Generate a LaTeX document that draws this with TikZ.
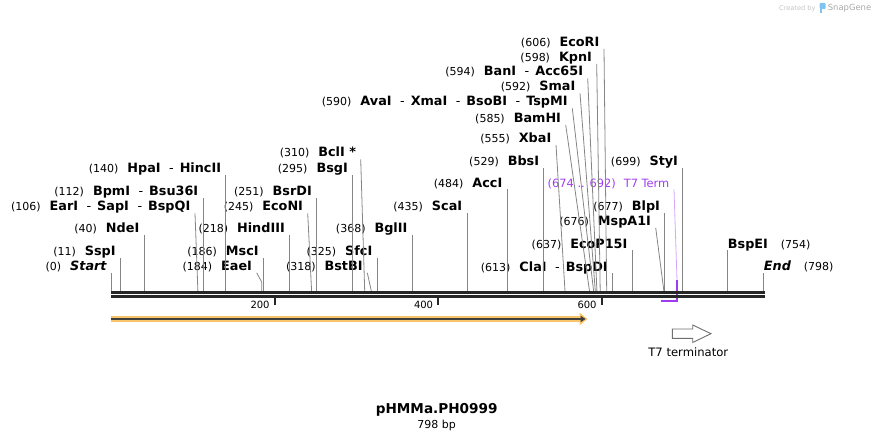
\documentclass[tikz,border=0pt]{standalone}
\usepackage{fontspec}
\setmainfont{DejaVu Sans}
\usepackage{tikz}
\usetikzlibrary{arrows.meta}

\definecolor{cutgray}{HTML}{858585}
\definecolor{bbdark}{HTML}{262626}
\definecolor{termpurple}{HTML}{A03CF0}
\definecolor{orfgold}{HTML}{F8C56A}
\definecolor{orfdark}{HTML}{3F3F3F}
\definecolor{featgray}{HTML}{6E6E6E}
\definecolor{creditgray}{HTML}{C4C4C4}
\definecolor{snapgray}{HTML}{A8A8A8}
\definecolor{snapblue}{HTML}{7CC4F2}

\newcommand{\numsz}{\fontsize{11}{13}\selectfont}
\newcommand{\enzsz}{\fontsize{12.8}{15}\selectfont\bfseries}
\newcommand{\site}[2]{{\numsz(#1)}\hspace{9pt}{\enzsz #2}}
\newcommand{\siteR}[2]{{\enzsz #1}\hspace{13pt}{\numsz(#2)}}
\newcommand{\orsep}{{\mdseries\hspace{8.5pt}-\hspace{6pt}}}

\begin{document}
\begin{tikzpicture}[x=1pt, y=-1pt,
    lab/.style={anchor=base east, inner xsep=4.5pt, inner ysep=0pt},
    labr/.style={anchor=base west, inner xsep=0pt, inner ysep=0pt},
    cut/.style={draw=cutgray, line width=0.8pt},
    strand/.style={draw=bbdark, line width=3pt},
    tick/.style={draw=bbdark, line width=2pt},
    ticklab/.style={anchor=base east, inner xsep=5pt, inner ysep=0pt, font=\fontsize{10}{12}\selectfont},
    orfband/.style={draw=orfgold, line width=6.5pt, -{Triangle[length=8pt,width=12pt]}},
    orfcore/.style={draw=orfdark, line width=1.6pt, shorten >=2pt, -{Triangle[length=5pt,width=6pt]}},
    t7arrow/.style={draw=featgray, line width=0.9pt, fill=white}]
    \useasboundingbox (0,0) rectangle (876,441);

    \coordinate (c0) at (111.3,291);
    \coordinate (c11) at (120.3,291);
    \coordinate (c40) at (144.0,291);
    \coordinate (c106) at (197.9,291);
    \coordinate (c112) at (202.9,291);
    \coordinate (c140) at (225.8,291);
    \coordinate (c184) at (261.7,291);
    \coordinate (c186) at (263.4,291);
    \coordinate (c218) at (289.5,291);
    \coordinate (c245) at (311.6,291);
    \coordinate (c251) at (316.5,291);
    \coordinate (c295) at (352.5,291);
    \coordinate (c310) at (364.7,291);
    \coordinate (c318) at (371.3,291);
    \coordinate (c325) at (377.0,291);
    \coordinate (c368) at (412.1,291);
    \coordinate (c435) at (466.9,291);
    \coordinate (c484) at (507.0,291);
    \coordinate (c529) at (543.8,291);
    \coordinate (c555) at (565.0,291);
    \coordinate (c585) at (589.5,291);
    \coordinate (c590) at (593.6,291);
    \coordinate (c592) at (595.3,291);
    \coordinate (c594) at (596.9,291);
    \coordinate (c598) at (600.2,291);
    \coordinate (c606) at (606.7,291);
    \coordinate (c613) at (612.4,291);
    \coordinate (c637) at (632.1,291);
    \coordinate (c676) at (663.9,291);
    \coordinate (c677) at (664.7,291);
    \coordinate (c699) at (682.7,291);
    \coordinate (c754) at (727.7,291);
    \coordinate (c798) at (763.7,291);

    \node[lab] (start) at (111.3,270.5) {\site{0}{\itshape Start}};
    \node[lab] (sspI) at (120.3,255.5) {\site{11}{SspI}};
    \node[lab] (ndeI) at (144.0,233) {\site{40}{NdeI}};
    \node[lab] (earI) at (195,211) {\site{106}{EarI\orsep SapI\orsep BspQI}};
    \node[lab] (bpmI) at (202.9,196) {\site{112}{BpmI\orsep Bsu36I}};
    \node[lab] (hpaI) at (225.8,173) {\site{140}{HpaI\orsep HincII}};
    \node[lab] (eaeI) at (256.7,270.5) {\site{184}{EaeI}};
    \node[lab] (mscI) at (263.4,255.5) {\site{186}{MscI}};
    \node[lab] (hindIII) at (289.5,233) {\site{218}{HindIII}};
    \node[lab] (ecoNI) at (307.7,211) {\site{245}{EcoNI}};
    \node[lab] (bsrDI) at (316.5,196) {\site{251}{BsrDI}};
    \node[lab] (bsgI) at (352.5,173) {\site{295}{BsgI}};
    \node[lab] (bclI) at (360.7,157) {\site{310}{BclI *}};
    \node[lab] (bstBI) at (367.3,270.5) {\site{318}{BstBI}};
    \node[lab] (sfcI) at (377.0,255.5) {\site{325}{SfcI}};
    \node[lab] (bglII) at (412.1,233) {\site{368}{BglII}};
    \node[lab] (scaI) at (466.9,211) {\site{435}{ScaI}};
    \node[lab] (accI) at (507.0,187) {\site{484}{AccI}};
    \node[lab] (bbsI) at (543.8,166) {\site{529}{BbsI}};
    \node[lab] (xbaI) at (556,142.5) {\site{555}{XbaI}};
    \node[lab] (bamHI) at (565.7,122.5) {\site{585}{BamHI}};
    \node[lab] (avaI) at (572.3,106) {\site{590}{AvaI\orsep XmaI\orsep BsoBI\orsep TspMI}};
    \node[lab] (smaI) at (580,91) {\site{592}{SmaI}};
    \node[lab] (banI) at (587.7,76) {\site{594}{BanI\orsep Acc65I}};
    \node[lab] (kpnI) at (596.7,61.5) {\site{598}{KpnI}};
    \node[lab] (ecoRI) at (604,46.5) {\site{606}{EcoRI}};
    \node[lab] (claI) at (612.4,271) {\site{613}{ClaI\orsep BspDI}};
    \node[lab] (ecoP15I) at (632.1,248) {\site{637}{EcoP15I}};
    \node[lab] (mspA1I) at (655.7,225.5) {\site{676}{MspA1I}};
    \node[lab] (blpI) at (664.7,211) {\site{677}{BlpI}};
    \node[lab] (styI) at (682.7,166) {\site{699}{StyI}};
    \node[labr] (bspEI) at (727.7,248) {\siteR{BspEI}{754}};
    \node[labr] (endpt) at (763.7,270.5) {\siteR{\itshape End}{798}};
    \node[lab, text=termpurple, font=\fontsize{11.4}{13}\selectfont] (t7term) at (674,187) {(674 .. 692)\hspace{8pt}T7 Term};

    \draw[cut] ([yshift=-2.3pt]start.base east) -- (c0);
    \draw[cut] ([yshift=-2.3pt]sspI.base east) -- (c11);
    \draw[cut] ([yshift=-2.3pt]ndeI.base east) -- (c40);
    \draw[cut] ([yshift=-2.3pt]earI.base east) -- (c106);
    \draw[cut] ([yshift=-2.3pt]bpmI.base east) -- (c112);
    \draw[cut] ([yshift=-2.3pt]hpaI.base east) -- (c140);
    \draw[cut] ([yshift=-2.3pt]eaeI.base east) -- ([yshift=9pt]c184) -- (c184);
    \draw[cut] ([yshift=-2.3pt]mscI.base east) -- (c186);
    \draw[cut] ([yshift=-2.3pt]hindIII.base east) -- (c218);
    \draw[cut] ([yshift=-2.3pt]ecoNI.base east) -- (c245);
    \draw[cut] ([yshift=-2.3pt]bsrDI.base east) -- (c251);
    \draw[cut] ([yshift=-2.3pt]bsgI.base east) -- (c295);
    \draw[cut] ([yshift=-2.3pt]bclI.base east) -- (c310);
    \draw[cut] ([yshift=-2.3pt]bstBI.base east) -- (c318);
    \draw[cut] ([yshift=-2.3pt]sfcI.base east) -- (c325);
    \draw[cut] ([yshift=-2.3pt]bglII.base east) -- (c368);
    \draw[cut] ([yshift=-2.3pt]scaI.base east) -- (c435);
    \draw[cut] ([yshift=-2.3pt]accI.base east) -- (c484);
    \draw[cut] ([yshift=-2.3pt]bbsI.base east) -- (c529);
    \draw[cut] ([yshift=-2.3pt]xbaI.base east) -- (c555);
    \draw[cut] ([yshift=-2.3pt]bamHI.base east) -- (c585);
    \draw[cut] ([yshift=-2.3pt]avaI.base east) -- (c590);
    \draw[cut] ([yshift=-2.3pt]smaI.base east) -- (c592);
    \draw[cut] ([yshift=-2.3pt]banI.base east) -- (c594);
    \draw[cut] ([yshift=-2.3pt]kpnI.base east) -- (c598);
    \draw[cut] ([yshift=-2.3pt]ecoRI.base east) -- (c606);
    \draw[cut] ([yshift=-2.3pt]claI.base east) -- (c613);
    \draw[cut] ([yshift=-2.3pt]ecoP15I.base east) -- (c637);
    \draw[cut] ([yshift=-2.3pt]mspA1I.base east) -- (c676);
    \draw[cut] ([yshift=-2.3pt]blpI.base east) -- (c677);
    \draw[cut] ([yshift=-2.3pt]styI.base east) -- (c699);
    \draw[cut] ([yshift=-2.3pt]bspEI.base west) -- (c754);
    \draw[cut] ([yshift=-2.3pt]endpt.base west) -- (c798);

    \coordinate (t7top) at (677,280);
    \coordinate (t7end) at (677,301);
    \coordinate (t7start) at (661,301);
    \draw[draw=termpurple!45, line width=0.8pt] ([yshift=-2.3pt]t7term.base east) -- (t7top);
    \draw[draw=termpurple, line width=1.8pt] (t7top) -- (t7end) -- (t7start);

    \draw[strand] (111,292.5) -- (765,292.5);
    \draw[strand] (111,296.7) -- (765,296.7);

    \draw[tick] (274.8,296.5) -- (274.8,305);
    \draw[tick] (438.3,296.5) -- (438.3,305);
    \draw[tick] (601.8,296.5) -- (601.8,305);
    \node[ticklab] (t200) at (274.8,308.6) {200};
    \node[ticklab] (t400) at (438.3,308.6) {400};
    \node[ticklab] (t600) at (601.8,308.6) {600};

    \coordinate (orfS) at (111.3,319);
    \coordinate (orfE) at (587.6,319);
    \draw[orfband] (orfS) -- (orfE);
    \draw[orfcore] (orfS) -- (orfE);

    \draw[t7arrow] (672.3,329) -- (692.7,329) -- (692.7,325) -- (711,333.7) -- (692.7,342.5) -- (692.7,338.3) -- (672.3,338.3) -- cycle;
    \node[anchor=base, font=\fontsize{11.6}{13}\selectfont] (t7feat) at (688.3,356.7) {T7 terminator};

    \node[anchor=base, font=\fontsize{13.6}{16}\selectfont\bfseries] (title) at (436.7,413.3) {pHMMa.PH0999};
    \node[anchor=base, font=\fontsize{11}{13}\selectfont] (len) at (436.7,428.3) {798 bp};

    \node[anchor=base west, inner sep=0pt, text=creditgray, font=\fontsize{6.6}{8}\selectfont] (cred) at (779,10.5) {Created by};
    \fill[snapblue, rounded corners=1pt] (819.5,3) rectangle (825.5,9);
    \fill[snapblue] (819.5,8) rectangle (822,13);
    \node[anchor=base west, inner sep=0pt, text=snapgray, font=\fontsize{8.4}{10}\selectfont] (snap) at (827.7,10.5) {SnapGene};
\end{tikzpicture}
\end{document}
